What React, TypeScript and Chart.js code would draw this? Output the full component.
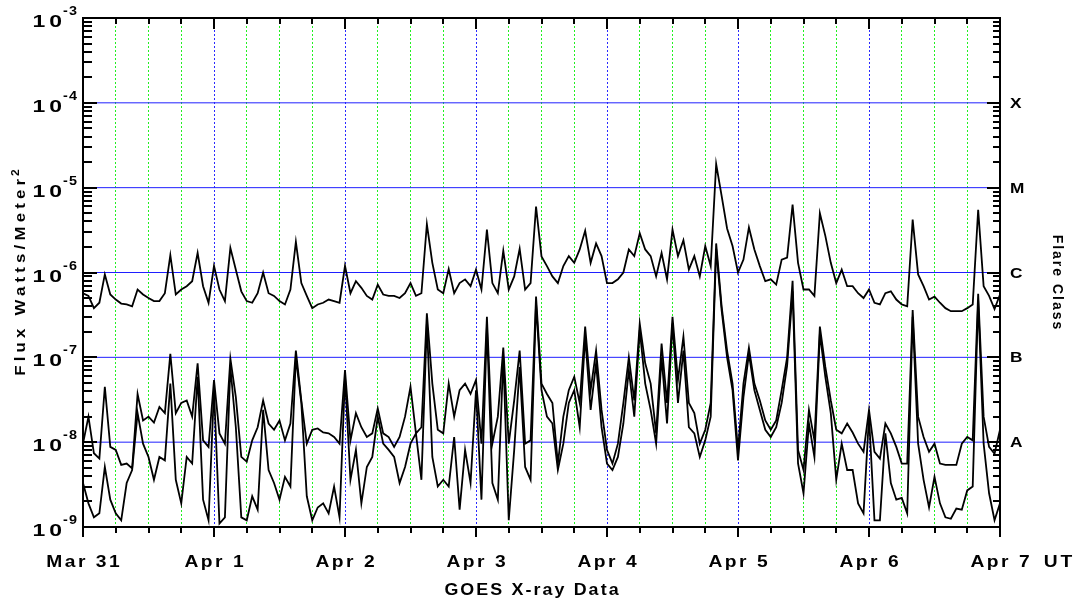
import React, { useEffect, useRef } from "react";
import { Chart, registerables } from "chart.js";

Chart.register(...registerables);

// ---------------- data (hourly samples, hours since Mar 31 00:00 UT) ----------------
// GOES long channel (1-8 A), W/m^2
const LONG_FLUX: number[] = [
  5.7e-7, 5.3e-7, 3.8e-7, 4.4e-7, 9.5e-7, 5.5e-7, 4.8e-7, 4.3e-7, 4.2e-7, 4.0e-7, 6.3e-7, 5.5e-7,
  5.0e-7, 4.6e-7, 4.6e-7, 5.7e-7, 1.6e-6, 5.5e-7, 6.3e-7, 6.9e-7, 7.9e-7, 1.7e-6, 6.9e-7, 4.4e-7,
  1.2e-6, 6.3e-7, 4.6e-7, 1.95e-6, 1.08e-6, 6.0e-7, 4.6e-7, 4.4e-7, 5.7e-7, 1.0e-6, 5.7e-7, 5.3e-7,
  4.6e-7, 4.2e-7, 6.3e-7, 2.3e-6, 7.5e-7, 5.3e-7, 3.8e-7, 4.2e-7, 4.4e-7, 4.8e-7, 4.6e-7, 4.4e-7,
  1.2e-6, 5.7e-7, 7.9e-7, 6.6e-7, 5.3e-7, 4.8e-7, 7.2e-7, 5.5e-7, 5.3e-7, 5.3e-7, 5.0e-7, 5.7e-7,
  7.5e-7, 5.3e-7, 5.7e-7, 3.7e-6, 1.3e-6, 6.3e-7, 5.7e-7, 1.1e-6, 5.7e-7, 7.5e-7, 8.3e-7, 6.9e-7,
  1.08e-6, 6.3e-7, 3.2e-6, 7.5e-7, 5.7e-7, 1.8e-6, 6.3e-7, 9.0e-7, 1.9e-6, 6.3e-7, 7.5e-7, 6.0e-6,
  1.55e-6, 1.19e-6, 9.0e-7, 7.5e-7, 1.19e-6, 1.56e-6, 1.3e-6, 1.87e-6, 3.1e-6, 1.3e-6, 2.2e-6, 1.56e-6,
  7.5e-7, 7.5e-7, 8.3e-7, 1.0e-6, 1.87e-6, 1.56e-6, 2.9e-6, 1.87e-6, 1.56e-6, 9.0e-7, 1.7e-6, 8.3e-7,
  3.2e-6, 1.56e-6, 2.4e-6, 1.08e-6, 1.56e-6, 9.0e-7, 2.05e-6, 1.19e-6, 1.9e-5, 8.0e-6, 3.3e-6, 2.05e-6,
  1.0e-6, 1.42e-6, 3.4e-6, 1.87e-6, 1.19e-6, 7.9e-7, 8.3e-7, 7.2e-7, 1.42e-6, 1.5e-6, 6.3e-6, 1.3e-6,
  6.3e-7, 6.3e-7, 5.3e-7, 5.0e-6, 2.7e-6, 1.3e-6, 7.5e-7, 1.08e-6, 6.9e-7, 6.9e-7, 5.7e-7, 5.0e-7,
  6.3e-7, 4.4e-7, 4.2e-7, 5.7e-7, 6.0e-7, 4.8e-7, 4.2e-7, 4.0e-7, 4.2e-6, 9.5e-7, 6.9e-7, 4.8e-7,
  5.2e-7, 4.4e-7, 3.8e-7, 3.5e-7, 3.5e-7, 3.5e-7, 3.8e-7, 4.2e-7, 5.5e-6, 6.9e-7, 5.3e-7, 3.7e-7,
  5.5e-7,
];

// GOES short channel (0.5-4 A), primary satellite
const SHORT_FLUX_A: number[] = [
  9.6e-9, 2.0e-8, 7.4e-9, 6.4e-9, 4.5e-8, 8.8e-9, 8.1e-9, 5.4e-9, 5.6e-9, 4.9e-9, 3.7e-8, 1.8e-8,
  2.0e-8, 1.7e-8, 2.6e-8, 2.2e-8, 1.1e-7, 2.2e-8, 2.9e-8, 3.1e-8, 2.0e-8, 8.5e-8, 1.05e-8, 8.8e-9,
  5.4e-8, 1.27e-8, 9.6e-9, 9.7e-8, 3.4e-8, 6.7e-9, 5.9e-9, 1.05e-8, 1.5e-8, 3.1e-8, 1.66e-8, 1.4e-8,
  1.8e-8, 1.05e-8, 1.66e-8, 1.2e-7, 3.1e-8, 9.6e-9, 1.4e-8, 1.45e-8, 1.3e-8, 1.27e-8, 1.15e-8, 9.6e-9,
  7.1e-8, 1.05e-8, 2.2e-8, 1.5e-8, 1.15e-8, 1.27e-8, 2.5e-8, 1.27e-8, 1.15e-8, 8.8e-9, 1.15e-8, 2.0e-8,
  4.5e-8, 1.27e-8, 1.5e-8, 3.3e-7, 4.9e-8, 1.4e-8, 1.27e-8, 4.9e-8, 2.0e-8, 4.1e-8, 4.9e-8, 3.7e-8,
  5.4e-8, 9.6e-9, 3.0e-7, 9.6e-9, 2.0e-8, 1.3e-7, 9.6e-9, 3.1e-8, 1.2e-7, 9.6e-9, 1.05e-8, 5.2e-7,
  4.9e-8, 3.7e-8, 2.9e-8, 5.6e-9, 2.0e-8, 4.1e-8, 5.9e-8, 2.9e-8, 2.3e-7, 4.1e-8, 1.2e-7, 2.4e-8,
  8.1e-9, 5.6e-9, 9.6e-9, 2.9e-8, 1.0e-7, 3.1e-8, 2.5e-7, 8.5e-8, 4.9e-8, 1.27e-8, 1.45e-7, 2.9e-8,
  3.0e-7, 5.4e-8, 1.75e-7, 2.9e-8, 2.2e-8, 9.6e-9, 1.4e-8, 2.9e-8, 2.2e-6, 4.0e-7, 1.2e-7, 4.9e-8,
  8.1e-9, 4.9e-8, 1.3e-7, 4.9e-8, 3.1e-8, 1.8e-8, 1.4e-8, 1.8e-8, 4.1e-8, 1.0e-7, 8.0e-7, 8.1e-9,
  4.7e-9, 2.4e-8, 1.05e-8, 2.3e-7, 7.7e-8, 3.1e-8, 1.4e-8, 1.27e-8, 1.66e-8, 1.3e-8, 9.6e-9, 7.7e-9,
  2.4e-8, 7.7e-9, 6.4e-9, 1.66e-8, 1.27e-8, 8.8e-9, 5.6e-9, 5.6e-9, 3.6e-7, 2.0e-8, 1.15e-8, 7.7e-9,
  9.6e-9, 5.6e-9, 5.4e-9, 5.4e-9, 5.4e-9, 9.6e-9, 1.15e-8, 1.05e-8, 5.6e-7, 2.0e-8, 8.8e-9, 7.3e-9,
  1.4e-8,
];

// GOES short channel (0.5-4 A), secondary satellite
const SHORT_FLUX_B: number[] = [
  3.3e-9, 1.9e-9, 1.3e-9, 1.45e-9, 5.1e-9, 2.1e-9, 1.45e-9, 1.2e-9, 3.3e-9, 4.7e-9, 2.2e-8, 9.6e-9,
  6.7e-9, 3.6e-9, 6.7e-9, 6.1e-9, 4.9e-8, 3.6e-9, 1.9e-9, 6.7e-9, 5.6e-9, 5.9e-8, 2.1e-9, 1.2e-9,
  4.1e-8, 1.1e-9, 1.3e-9, 7.7e-8, 1.5e-8, 1.3e-9, 1.2e-9, 2.3e-9, 1.6e-9, 2.4e-8, 4.7e-9, 3.3e-9,
  2.1e-9, 3.9e-9, 3.0e-9, 1.0e-7, 2.9e-8, 2.3e-9, 1.2e-9, 1.7e-9, 1.9e-9, 1.45e-9, 3.0e-9, 1.3e-9,
  5.9e-8, 3.6e-9, 8.1e-9, 1.9e-9, 5.1e-9, 6.7e-9, 2.0e-8, 9.6e-9, 8.1e-9, 6.7e-9, 3.3e-9, 5.1e-9,
  9.6e-9, 1.27e-8, 3.6e-9, 2.5e-7, 6.7e-9, 3.0e-9, 3.6e-9, 3.0e-9, 1.15e-8, 1.6e-9, 8.1e-9, 3.3e-9,
  4.1e-8, 2.1e-9, 2.3e-7, 3.3e-9, 2.1e-9, 1.0e-7, 1.2e-9, 8.1e-9, 7.7e-8, 5.1e-9, 3.6e-9, 4.3e-7,
  4.1e-8, 2.0e-8, 1.66e-8, 4.7e-9, 9.6e-9, 2.9e-8, 4.1e-8, 1.5e-8, 1.75e-7, 2.4e-8, 8.5e-8, 1.5e-8,
  5.6e-9, 4.7e-9, 6.7e-9, 1.66e-8, 7.1e-8, 2.0e-8, 2.1e-7, 4.9e-8, 2.4e-8, 9.6e-9, 1.0e-7, 1.66e-8,
  2.5e-7, 2.9e-8, 1.2e-7, 1.5e-8, 1.27e-8, 6.7e-9, 1.05e-8, 2.0e-8, 1.9e-6, 3.6e-7, 1.0e-7, 4.1e-8,
  6.1e-9, 3.4e-8, 1.1e-7, 4.1e-8, 2.4e-8, 1.4e-8, 1.15e-8, 1.5e-8, 2.9e-8, 8.0e-8, 6.0e-7, 5.6e-9,
  2.5e-9, 1.66e-8, 6.7e-9, 1.9e-7, 5.9e-8, 2.2e-8, 3.6e-9, 9.6e-9, 4.7e-9, 4.7e-9, 1.9e-9, 1.45e-9,
  2.0e-8, 1.2e-9, 1.2e-9, 1.27e-8, 3.3e-9, 2.1e-9, 2.2e-9, 1.45e-9, 3.0e-7, 9.6e-9, 3.6e-9, 1.7e-9,
  3.9e-9, 1.9e-9, 1.3e-9, 1.25e-9, 1.65e-9, 1.6e-9, 2.7e-9, 3.0e-9, 4.7e-7, 9.6e-9, 2.5e-9, 1.2e-9,
  1.9e-9,
];

// hour of each sample
const HOURS: number[] = LONG_FLUX.map((_, i) => i);

// x axis: tick/grid hours and day labels
const GRID_HOURS: number[] = [
  0, 6, 12, 18, 24, 30, 36, 42, 48, 54, 60, 66, 72, 78, 84, 90, 96, 102, 108, 114, 120, 126, 132,
  138, 144, 150, 156, 162, 168,
];
const DAY_HOURS: number[] = [0, 24, 48, 72, 96, 120, 144, 168];
const DAY_LABELS: string[] = ["Mar 31", "Apr 1", "Apr 2", "Apr 3", "Apr 4", "Apr 5", "Apr 6", "Apr 7"];

// y axis
const Y_MIN = 1e-9;
const Y_MAX = 1e-3;
const DECADE_EXPONENTS: number[] = [-3, -4, -5, -6, -7, -8, -9];
const MINOR_MULTIPLIERS: number[] = [2, 3, 4, 5, 6, 7, 8, 9];
const REF_LEVELS: number[] = [1e-4, 1e-5, 1e-6, 1e-7, 1e-8];
const CLASS_LEVELS: number[] = [1e-4, 1e-5, 1e-6, 1e-7, 1e-8];
const CLASS_LABELS: string[] = ["X", "M", "C", "B", "A"];

const X_TITLE = "GOES X-ray Data";
const X_UNIT = "UT";
const Y_TITLE = "Flux Watts/Meter";
const Y_TITLE_SUP = "2";
const Y2_TITLE = "Flare Class";

const FONT_FAMILY = '"Liberation Sans", Arial, Helvetica, sans-serif';
const GREEN_DOT = "#22f022";
const BLUE_DOT = "#2a2aff";
const REF_LINE_COLOR = "#1f1fff";

// draws text horizontally stretched by sx, with extra letter spacing ls (unscaled px)
function wideText(
  ctx: CanvasRenderingContext2D,
  text: string,
  x: number,
  y: number,
  sx: number,
  ls: number,
  align: "left" | "center" | "right"
) {
  (ctx as any).letterSpacing = "0px";
  const w = (ctx.measureText(text).width + ls * Math.max(0, text.length - 1)) * sx;
  let startX = x;
  if (align === "center") startX = x - w / 2;
  else if (align === "right") startX = x - w;
  ctx.save();
  ctx.translate(startX, y);
  ctx.scale(sx, 1);
  (ctx as any).letterSpacing = ls + "px";
  ctx.textAlign = "left";
  ctx.fillText(text, 0, 0);
  ctx.restore();
  (ctx as any).letterSpacing = "0px";
  return w;
}

const overlayPlugin = {
  id: "goesOverlay",
  beforeDatasetsDraw(chart: any) {
    const { ctx, chartArea: a, scales } = chart;
    const y = scales.y;
    ctx.save();
    ctx.lineWidth = 1;
    ctx.strokeStyle = REF_LINE_COLOR;
    for (const v of REF_LEVELS) {
      const py = y.getPixelForValue(v);
      ctx.beginPath();
      ctx.moveTo(a.left, py);
      ctx.lineTo(a.right, py);
      ctx.stroke();
    }
    ctx.restore();
  },
  afterDatasetsDraw(chart: any) {
    const { ctx, chartArea: a, scales } = chart;
    const x = scales.x;
    const y = scales.y;
    const line = (x1: number, y1: number, x2: number, y2: number) => {
      ctx.beginPath();
      ctx.moveTo(x1, y1);
      ctx.lineTo(x2, y2);
      ctx.stroke();
    };
    ctx.save();
    ctx.strokeStyle = "#000";
    ctx.fillStyle = "#000";
    ctx.lineWidth = 2;

    // x ticks (bottom outward, top inward)
    for (const h of GRID_HOURS) {
      const px = Math.round(x.getPixelForValue(h));
      const major = DAY_HOURS.includes(h);
      line(px, a.bottom, px, a.bottom + (major ? 10 : 6));
      line(px, a.top, px, a.top + (major ? 11 : 6));
    }

    // y ticks (log), left and right, inward
    for (const e of DECADE_EXPONENTS) {
      const py = Math.round(y.getPixelForValue(Math.pow(10, e)));
      line(a.left, py, a.left + 14, py);
      line(a.right, py, a.right - 13, py);
      if (e < -3) {
        for (const m of MINOR_MULTIPLIERS) {
          const my = Math.round(y.getPixelForValue(m * Math.pow(10, e)));
          line(a.left, my, a.left + 9, my);
          line(a.right, my, a.right - 7, my);
        }
      }
    }

    // frame
    ctx.lineWidth = 2;
    ctx.strokeRect(a.left, a.top, a.right - a.left, a.bottom - a.top);

    // y tick labels 10^e
    ctx.textBaseline = "alphabetic";
    for (const e of DECADE_EXPONENTS) {
      const py = y.getPixelForValue(Math.pow(10, e));
      ctx.font = `bold 12px ${FONT_FAMILY}`;
      const sup = String(e);
      const supRight = a.left - 6;
      const supW = wideText(ctx, sup, supRight, py - 3, 1.2, 1, "right");
      ctx.font = `bold 17px ${FONT_FAMILY}`;
      wideText(ctx, "10", supRight - supW - 1, py + 9, 1.35, 3, "right");
    }

    // flare class labels
    ctx.font = `bold 15px ${FONT_FAMILY}`;
    ctx.textBaseline = "middle";
    CLASS_LEVELS.forEach((v, i) => {
      const py = y.getPixelForValue(v);
      wideText(ctx, CLASS_LABELS[i], a.right + 10, py + 1, 1.15, 0, "left");
    });

    // x tick labels
    ctx.textBaseline = "alphabetic";
    ctx.font = `bold 16px ${FONT_FAMILY}`;
    DAY_HOURS.forEach((h, i) => {
      const px = x.getPixelForValue(h);
      wideText(ctx, DAY_LABELS[i], px, a.bottom + 40, 1.2, 2.1, "center");
    });
    wideText(ctx, X_UNIT, a.right + 58, a.bottom + 40, 1.2, 2.5, "center");

    // x title
    ctx.font = `bold 17px ${FONT_FAMILY}`;
    wideText(ctx, X_TITLE, (a.left + a.right) / 2 - 10, a.bottom + 68, 1.05, 2, "center");

    // left y title (rotated)
    ctx.save();
    ctx.translate(25, (a.top + a.bottom) / 2);
    ctx.rotate(-Math.PI / 2);
    ctx.font = `bold 14px ${FONT_FAMILY}`;
    const sxT = 1.2;
    const lsT = 3.5;
    (ctx as any).letterSpacing = "0px";
    const tW = (ctx.measureText(Y_TITLE).width + lsT * (Y_TITLE.length - 1)) * sxT;
    ctx.font = `bold 10px ${FONT_FAMILY}`;
    const sW = ctx.measureText(Y_TITLE_SUP).width * sxT;
    const start = -(tW + sW + 3) / 2;
    ctx.font = `bold 14px ${FONT_FAMILY}`;
    wideText(ctx, Y_TITLE, start, 0, sxT, lsT, "left");
    ctx.font = `bold 10px ${FONT_FAMILY}`;
    wideText(ctx, Y_TITLE_SUP, start + tW + 3, -6, sxT, 0, "left");
    ctx.restore();

    // right title (rotated clockwise)
    ctx.save();
    ctx.translate(1053, 282);
    ctx.rotate(Math.PI / 2);
    ctx.font = `bold 14px ${FONT_FAMILY}`;
    wideText(ctx, Y2_TITLE, 0, 0, 1.0, 2, "center");
    ctx.restore();

    ctx.restore();
  },
};

export default function App() {
  const ref = useRef<HTMLCanvasElement | null>(null);
  useEffect(() => {
    document.body.style.margin = "0";
    const canvas = ref.current!;
    const mk = (vals: number[]) => HOURS.map((h, i) => ({ x: h, y: vals[i] }));
    const chart = new Chart(canvas, {
      type: "line",
      data: {
        datasets: [
          { label: "Long", data: mk(LONG_FLUX), borderColor: "#000", borderWidth: 1.8, pointRadius: 0, tension: 0 },
          { label: "Short A", data: mk(SHORT_FLUX_A), borderColor: "#000", borderWidth: 1.8, pointRadius: 0, tension: 0 },
          { label: "Short B", data: mk(SHORT_FLUX_B), borderColor: "#000", borderWidth: 1.8, pointRadius: 0, tension: 0 },
        ],
      },
      options: {
        animation: false,
        responsive: false,
        devicePixelRatio: 1,
        layout: { padding: { left: 83, right: 75, top: 18, bottom: 74 } },
        plugins: { legend: { display: false }, tooltip: { enabled: false } },
        scales: {
          x: {
            type: "linear",
            min: 0,
            max: 168,
            afterBuildTicks: (s: any) => {
              s.ticks = GRID_HOURS.map((v) => ({ value: v }));
            },
            afterFit: (s: any) => {
              s.height = 0;
            },
            ticks: { display: false },
            grid: {
              drawTicks: false,
              lineWidth: 1,
              color: (c: any) => {
                const v = c.tick ? c.tick.value : -1;
                if (v <= 0 || v >= 168) return "rgba(0,0,0,0)";
                return v % 24 === 0 ? BLUE_DOT : GREEN_DOT;
              },
            },
            border: { display: false, dash: [2, 2] },
          },
          y: {
            type: "logarithmic",
            min: Y_MIN,
            max: Y_MAX,
            afterFit: (s: any) => {
              s.width = 0;
            },
            ticks: { display: false },
            grid: { display: false },
            border: { display: false },
          },
        },
      },
      plugins: [overlayPlugin],
    } as any);
    return () => chart.destroy();
  }, []);
  return (
    <div style={{ width: 1075, height: 601, background: "#fff" }}>
      <canvas ref={ref} width={1075} height={601} style={{ display: "block", width: 1075, height: 601 }} />
    </div>
  );
}
